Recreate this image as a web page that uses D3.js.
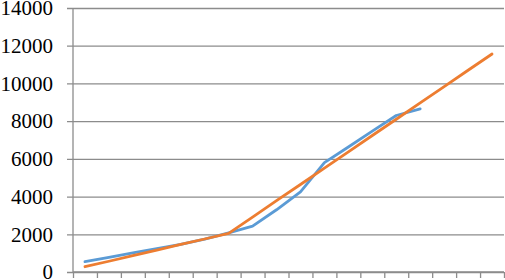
<!DOCTYPE html>
<html>
<head>
<meta charset="utf-8">
<script src="https://cdn.jsdelivr.net/npm/d3@7"></script>
<style>
  html, body { margin: 0; padding: 0; background: #fff; }
  svg { display: block; }
  .ylabel { font-family: "Liberation Serif", "Times New Roman", serif; font-size: 21px; }
</style>
</head>
<body>
<svg id="chart" width="505" height="280"></svg>
<script>
// categories along the x axis (labels are cut off in the picture)
var categories = ["1","2","3","4","5","6","7","8","9","10","11","12","13","14","15","16","17","18"];
// actual series (blue), stops after 15 points
var actualValues = [550, 780, 1010, 1240, 1470, 1740, 2070, 2430, 3300, 4250, 5800, 6630, 7470, 8300, 8650];
// fitted / projected series (orange)
var fittedValues = [280, 570, 870, 1160, 1460, 1750, 2050, 2910, 3780, 4640, 5510, 6370, 7240, 8100, 8970, 9830, 10700, 11560];
var yTicks = [0, 2000, 4000, 6000, 8000, 10000, 12000, 14000];

let svg = d3.select("#chart");

let margin = {
  top:    8,
  right:  1,
  bottom: 8,  // x-axis ticks hang below
  left:   73
};
let plotWidth = 505 - margin.left - margin.right;
let plotHeight = 280 - margin.top - margin.bottom;

let plot = svg.append("g")
  .attr("transform", "translate(" + margin.left + "," + margin.top + ")");

var xScale = d3.scaleBand()
  .domain(categories)
  .range([0, plotWidth]);

// boundaries between categories, for the tick marks
var edgeScale = d3.scaleLinear()
  .domain([0, categories.length])
  .range([0, plotWidth]);

var yScale = d3.scaleLinear()
  .domain([0, 14000])
  .range([plotHeight, 0]);

// y axis with gridlines running across
let yAxis = d3.axisLeft(yScale)
  .tickValues(yTicks)
  .tickSize(6)
  .tickPadding(14)
  .tickFormat(d3.format("d"));
let yGroup = plot.append("g").attr("id", "y-axis").call(yAxis)
  .attr("font-family", "Liberation Serif")
  .attr("font-size", 21);
yGroup.select(".domain").remove();
yGroup.selectAll(".tick line")
  .attr("x1", -6)
  .attr("x2", plotWidth)
  .attr("stroke", "#8c8c8c")
  .attr("stroke-width", 1.3);
yGroup.selectAll(".tick text")
  .attr("class", "ylabel")
  .attr("fill", "#000");

// vertical axis line
plot.append("line")
  .attr("x1", 0).attr("x2", 0)
  .attr("y1", 0).attr("y2", plotHeight)
  .attr("stroke", "#8c8c8c")
  .attr("stroke-width", 1.3);

// x axis: ticks at category edges
let xAxis = d3.axisBottom(edgeScale)
  .tickValues(d3.range(categories.length + 1))
  .tickSize(6)
  .tickFormat("");
let xGroup = plot.append("g").attr("id", "x-axis")
  .attr("transform", "translate(0," + plotHeight + ")")
  .call(xAxis);
xGroup.select(".domain")
  .attr("stroke", "#8c8c8c")
  .attr("stroke-width", 1.3)
  .attr("d", "M0,0H" + plotWidth);
xGroup.selectAll(".tick line")
  .attr("stroke", "#8c8c8c")
  .attr("stroke-width", 1.3);

var plotLine = d3.line()
  .x(function(d, i){ return xScale(categories[i]) + xScale.bandwidth() / 2; })
  .y(function(d){ return yScale(d); });

plot.append("path")
  .attr("d", plotLine(actualValues))
  .attr("stroke", "#5B9BD5")
  .attr("stroke-width", 2.8)
  .attr("stroke-linejoin", "round")
  .attr("stroke-linecap", "round")
  .attr("fill", "none");

plot.append("path")
  .attr("d", plotLine(fittedValues))
  .attr("stroke", "#ED7D31")
  .attr("stroke-width", 2.8)
  .attr("stroke-linejoin", "round")
  .attr("stroke-linecap", "round")
  .attr("fill", "none");
</script>
</body>
</html>
